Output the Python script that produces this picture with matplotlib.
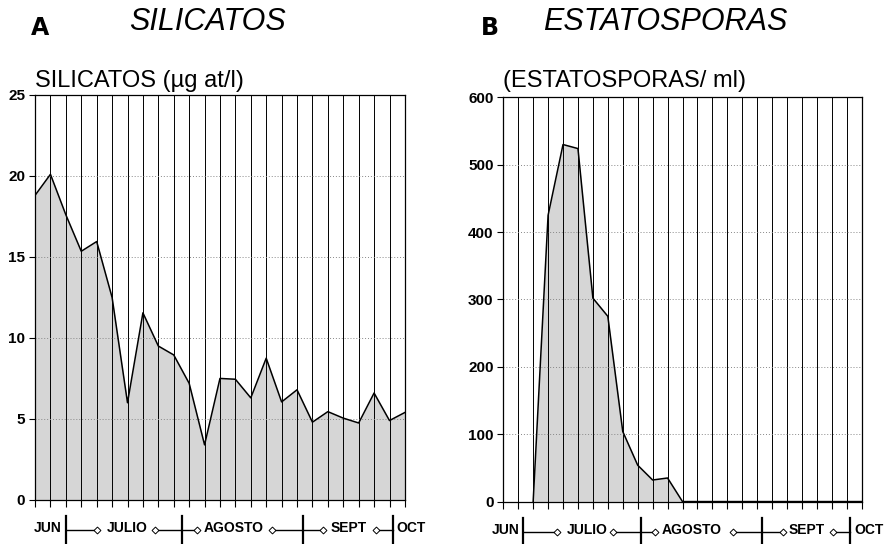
import numpy as np
import matplotlib
matplotlib.use("Agg")
import matplotlib.pyplot as plt
import matplotlib.transforms as mtransforms

plt.rcParams['font.family'] = ['Liberation Sans', 'DejaVu Sans']

# sampling index (25 samples, JUN -> OCT)
samples = list(range(25))

silicatos = [18.8, 20.1, 17.6, 15.35, 15.95, 12.5, 6.0, 11.55, 9.5, 8.95,
             7.2, 3.4, 7.5, 7.45, 6.3, 8.75, 6.05, 6.8, 4.8, 5.45,
             5.05, 4.75, 6.6, 4.9, 5.4]

estatosporas = [np.nan, np.nan, 0, 425, 530, 524, 302, 275, 104, 54,
                32, 35, 0, 0, 0, 0, 0, 0, 0, 0,
                0, 0, 0, 0, 0]

month_names = ["JUN", "JULIO", "AGOSTO", "SEPT", "OCT"]
# month label positions (sample units) for each panel
labels_a = [1.75, 6.0, 12.9, 20.35, 23.45]
labels_b = [1.12, 5.6, 12.6, 20.3, 23.5]
# month boundaries: (start, end, mark position, left marker?, right marker?)
bounds_a = [(2.0, 4.0, 2.0, False, True), (7.8, 10.5, 9.55, True, True),
            (15.4, 18.7, 17.4, True, True), (22.1, 23.25, 23.25, True, False)]
bounds_b = [(1.34, 3.58, 1.34, False, True), (7.33, 10.15, 9.2, True, True),
            (15.4, 18.7, 17.3, True, True), (22.1, 23.2, 23.2, True, False)]

fig = plt.figure(figsize=(8.87, 5.44), dpi=100)
ax1 = fig.add_axes([0.0395, 0.081, 0.417, 0.7445])
ax2 = fig.add_axes([0.5674, 0.078, 0.4041, 0.743])


def draw_panel(ax, y, ymax, ystep, labels, bounds):
    x = np.array(samples)
    y = np.array(y, dtype=float)
    ok = ~np.isnan(y)
    ax.fill_between(x[ok], 0, y[ok], color='#d6d6d6', lw=0, zorder=1)
    ax.plot(x[ok], y[ok], color='black', lw=1.1, zorder=3)
    for xi in x:
        ax.axvline(xi, color='black', lw=0.7, zorder=2)
    for yv in np.arange(ystep, ymax, ystep):
        ax.axhline(yv, color='#888888', lw=0.7, ls=(0, (1, 2)), zorder=2)
    ax.set_xlim(0, 24)
    ax.set_ylim(0, ymax)
    ax.set_xticks(x)
    ax.set_xticklabels([])
    ax.set_yticks(np.arange(0, ymax + 1, ystep))
    ax.tick_params(axis='y', length=4, width=0.8, labelsize=11, pad=3)
    ax.tick_params(axis='x', length=5, width=0.8)
    for lab in ax.get_yticklabels():
        lab.set_fontweight('bold')
    for s in ax.spines.values():
        s.set_linewidth(0.9)

    tr = mtransforms.blended_transform_factory(ax.transData, ax.transAxes)
    ty = -0.07
    for i, (name, xp) in enumerate(zip(month_names, labels)):
        ha = 'right' if i == 0 else ('left' if i == 4 else 'center')
        ax.text(xp, ty, name, transform=tr, ha=ha, va='center',
                fontsize=10, fontweight='bold', clip_on=False)
    for x0, x1, xm, lm, rm in bounds:
        ax.plot([x0, x1], [ty - 0.005, ty - 0.005], color='black', lw=1.0,
                transform=tr, clip_on=False)
        ax.plot([xm, xm], [-0.04, -0.11], color='black', lw=1.6,
                transform=tr, clip_on=False)
        if lm:
            ax.plot([x0], [ty - 0.005], marker='D', ms=3.5, mfc='white',
                    mec='black', mew=0.7, transform=tr, clip_on=False)
        if rm:
            ax.plot([x1], [ty - 0.005], marker='D', ms=3.5, mfc='white',
                    mec='black', mew=0.7, transform=tr, clip_on=False)


draw_panel(ax1, silicatos, 25, 5, labels_a, bounds_a)
draw_panel(ax2, estatosporas, 600, 100, labels_b, bounds_b)

ax1.text(0, 1 + 8 / 405, "SILICATOS (µg at/l)", transform=ax1.transAxes,
         ha='left', va='baseline', fontsize=17)
ax2.text(0, 1 + 10 / 405, "(ESTATOSPORAS/ ml)", transform=ax2.transAxes,
         ha='left', va='baseline', fontsize=17)

fig.text(40 / 887, 1 - 35 / 544, "A", fontsize=17, fontweight='bold',
         family='DejaVu Sans', ha='center', va='baseline')
fig.text(208 / 887, 1 - 30 / 544, "SILICATOS", fontsize=22, style='italic',
         ha='center', va='baseline')
fig.text(490 / 887, 1 - 35 / 544, "B", fontsize=17, fontweight='bold',
         family='DejaVu Sans', ha='center', va='baseline')
fig.text(665 / 887, 1 - 30 / 544, "ESTATOSPORAS", fontsize=22, style='italic',
         ha='center', va='baseline')

fig.savefig("out.png", dpi=100)
